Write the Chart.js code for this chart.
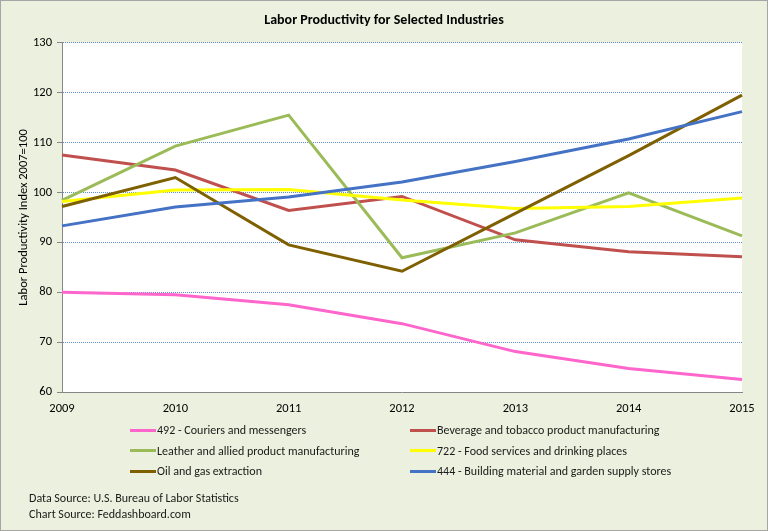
<!DOCTYPE html>
<html>
<head>
<meta charset="utf-8">
<script src="https://cdn.jsdelivr.net/npm/chart.js@4/dist/chart.umd.min.js"></script>
<style>
	html, body { margin: 0; padding: 0; background: #EBF1DE; }
	#wrap { position: relative; width: 768px; height: 531px; box-sizing: border-box; border: 1px solid #A6A6A6; overflow: hidden; }
	#chart { position: absolute; left: 0; top: 0; }
	#legend { position: absolute; left: 0; top: 0; }
	.item { position: absolute; height: 16px; line-height: 16px; font: 12px Carlito, 'Liberation Sans', sans-serif; color: #1a1a1a; white-space: nowrap; }
	.item i { display: inline-block; width: 26px; height: 3px; vertical-align: middle; margin-right: 1px; position: relative; top: -1px; }
	.src { position: absolute; left: 28px; font: 12px Carlito, 'Liberation Sans', sans-serif; color: #1a1a1a; }
</style>
</head>
<body>
<div id="wrap">
	<canvas id="chart" width="766" height="529"></canvas>
	<div id="legend"></div>
	<div class="src" style="top:490px">Data Source: U.S. Bureau of Labor Statistics</div>
	<div class="src" style="top:506px">Chart Source: Feddashboard.com</div>
</div>
<script>
const years = ['2009', '2010', '2011', '2012', '2013', '2014', '2015']
const couriers = [80.0, 79.5, 77.5, 73.7, 68.1, 64.7, 62.5]
const beverage = [107.5, 104.5, 96.4, 99.2, 90.5, 88.1, 87.1]
const leather = [98.4, 109.3, 115.5, 86.9, 91.9, 99.9, 91.3]
const foodServices = [98.2, 100.5, 100.6, 98.5, 96.8, 97.2, 98.9]
const oilGas = [97.2, 103.0, 89.5, 84.2, 95.8, 107.4, 119.5]
const buildingStores = [93.3, 97.1, 99.1, 102.1, 106.2, 110.7, 116.2]

const seriesNames = [
	'492 - Couriers and messengers',
	'Beverage and tobacco product manufacturing',
	'Leather and allied product manufacturing',
	'722 - Food services and drinking places',
	'Oil and gas extraction',
	'444 - Building material and garden supply stores'
]
const seriesValues = [couriers, beverage, leather, foodServices, oilGas, buildingStores]
const seriesColors = ['#FF66CC', '#C0504D', '#9BBB59', '#FFFF00', '#7F6000', '#4472C4']

const FONT = "Carlito, 'Liberation Sans', sans-serif"

// paint olive background and white plot area
const backdrop = {
	id: 'backdrop',
	beforeDraw(chart) {
		const {ctx, chartArea} = chart
		ctx.save()
		ctx.fillStyle = '#EBF1DE'
		ctx.fillRect(0, 0, chart.width, chart.height)
		ctx.fillStyle = '#FFFFFF'
		ctx.fillRect(chartArea.left, chartArea.top, chartArea.right - chartArea.left, chartArea.bottom - chartArea.top)
		ctx.restore()
	}
}

const chart = new Chart(document.getElementById('chart'), {
	type: 'line',
	data: {
		labels: years,
		datasets: seriesNames.map((name, i) => ({
			label: name,
			data: seriesValues[i],
			borderColor: seriesColors[i],
			backgroundColor: seriesColors[i],
			borderWidth: 3,
			pointRadius: 0,
			tension: 0,
			order: seriesNames.length - i
		}))
	},
	options: {
		responsive: false,
		animation: false,
		layout: { padding: { left: 0, right: 0, top: 0, bottom: 108 } },
		plugins: {
			legend: { display: false },
			tooltip: { enabled: false },
			title: {
				display: true,
				text: 'Labor Productivity for Selected Industries',
				color: '#000',
				font: { family: FONT, size: 14, weight: 'bold' },
				padding: { top: 11, bottom: 14 }
			}
		},
		scales: {
			x: {
				offset: false,
				grid: { display: false },
				border: { display: true, color: '#868686', width: 1 },
				ticks: { color: '#000', font: { family: FONT, size: 12.5 }, padding: 1, maxRotation: 0 },
				afterFit(scale) { scale.height = 30 }
			},
			y: {
				min: 60,
				max: 130,
				grid: {
					color: '#5F8FD0',
					lineWidth: 1,
					tickColor: '#868686',
					tickLength: 5,
					tickBorderDash: []
				},
				border: { display: true, color: '#868686', width: 1, dash: [1, 1] },
				ticks: { stepSize: 10, color: '#000', font: { family: FONT, size: 12.5 }, padding: 5 },
				title: {
					display: true,
					text: 'Labor Productivity Index 2007=100',
					color: '#000',
					font: { family: FONT, size: 12.5 },
					padding: { top: 15, bottom: 0 }
				},
				afterFit(scale) { scale.width = 61 }
			},
			// empty strip on the right, keeps the plot narrower than the title box
			rightGap: {
				position: 'right',
				min: 0,
				max: 1,
				grid: { display: false },
				border: { display: false },
				ticks: { display: false },
				afterFit(scale) { scale.width = 25 }
			}
		}
	},
	plugins: [backdrop]
})

// two-column legend like the original
const legend = document.getElementById('legend')
chart.data.datasets.forEach((ds, i) => {
	const el = document.createElement('div')
	el.className = 'item'
	el.style.left = (i % 2 === 0 ? 129 : 409) + 'px'
	el.style.top = (422 + Math.floor(i / 2) * 20.7) + 'px'
	el.innerHTML = '<i style="background:' + ds.borderColor + '"></i>'
	el.appendChild(document.createTextNode(ds.label))
	legend.appendChild(el)
})
</script>
</body>
</html>
